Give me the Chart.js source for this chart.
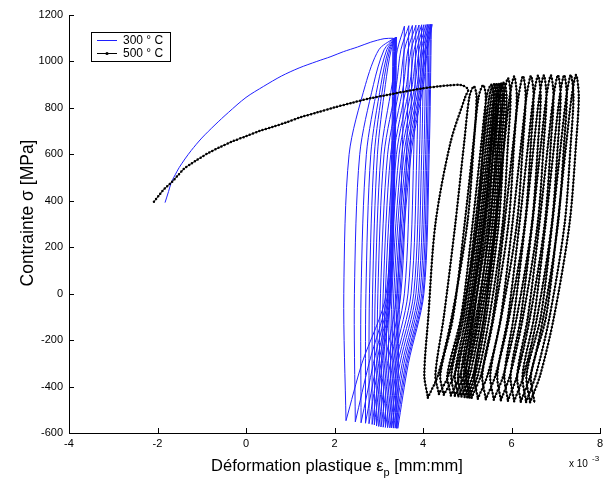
<!DOCTYPE html>
<html><head><meta charset="utf-8">
<script src="https://cdn.jsdelivr.net/npm/chart.js@4/dist/chart.umd.min.js"></script>
<style>html,body{margin:0;padding:0;background:#fff;}#wrap{width:614px;height:481px;}</style>
</head><body><div id="wrap"><canvas id="c" width="614" height="481"></canvas></div>
<script>
// ---- axes ----
const xTicks = [-4, -2, 0, 2, 4, 6, 8];
const yTicks = [-600, -400, -200, 0, 200, 400, 600, 800, 1000, 1200];
const seriesNames = ['300 ° C', '500 ° C'];

// ---- 300 °C : monotonic loading ----
const blueMonoX = [-1.83,-1.75,-1.69,-1.6,-1.51,-1.38,-1.24,-1.0,-0.7,-0.4,0,0.4,0.8,1.2,1.6,1.92,2.2,2.52,2.82,3.12,3.32];
const blueMonoY = [392,440,478,512,543,580,616,670,727,780,845,893,937,972,1000,1021,1042,1062,1083,1098,1100];
// 300 °C : cycle peaks (top-right corners) and troughs (bottom-left tips)
const bluePeakX = [3.32,3.34,3.36,3.37,3.38,3.39,3.40,3.58,3.68,3.76,3.84,3.91,3.97,4.02,4.07,4.11,4.14,4.17,4.19,4.21];
const bluePeakY = [1100,1100,1102,1102,1103,1104,1105,1152,1154,1155,1156,1157,1158,1158,1159,1160,1160,1160,1160,1160];
const blueTipX = [2.26,2.47,2.60,2.70,2.78,2.85,2.90,2.95,3.00,3.05,3.10,3.15,3.20,3.25,3.29,3.33,3.37,3.40,3.43];
const blueTipY = [-547,-552,-556,-558,-560,-563,-565,-570,-572,-574,-575,-576,-577,-578,-578,-579,-579,-580,-580];
// 300 °C : unloading branches, strain read at these stress levels
const blueDownLevels = [600, 0, -300];
const blueDownX = [
 [3.29,3.17,2.62],[3.31,3.20,2.78],[3.33,3.22,2.88],[3.34,3.24,2.95],[3.35,3.26,3.00],
 [3.36,3.27,3.05],[3.37,3.28,3.08],[3.53,3.41,3.14],[3.63,3.50,3.20],[3.71,3.58,3.26],
 [3.79,3.66,3.32],[3.86,3.73,3.38],[3.92,3.79,3.43],[3.97,3.84,3.48],[4.02,3.89,3.53],
 [4.06,3.93,3.57],[4.09,3.97,3.61],[4.12,4.00,3.64],[4.14,4.02,3.67]];
// 300 °C : reloading branches
const blueUpLevels = [0, 600, 900, 1050];
const blueUpX = [
 [2.21,2.33,2.70,3.00],[2.45,2.57,2.88,3.12],[2.60,2.72,2.98,3.18],[2.71,2.82,3.05,3.22],
 [2.79,2.90,3.10,3.25],[2.86,2.97,3.15,3.28],[2.92,3.05,3.30,3.42],[2.98,3.12,3.40,3.50],
 [3.04,3.20,3.48,3.58],[3.10,3.27,3.56,3.66],[3.15,3.34,3.63,3.73],[3.20,3.40,3.70,3.80],
 [3.25,3.46,3.76,3.86],[3.30,3.52,3.82,3.91],[3.34,3.57,3.87,3.96],[3.38,3.62,3.91,4.00],
 [3.42,3.66,3.95,4.04],[3.45,3.70,3.98,4.07],[3.48,3.73,4.01,4.10]];

// ---- 500 °C : monotonic loading ----
const blackMonoX = [-2.08,-1.98,-1.88,-1.78,-1.69,-1.55,-1.4,-1.26,-1.13,-0.98,-0.84,-0.6,-0.3,0,0.3,0.6,0.9,1.24,1.6,2.0,2.4,2.8,3.2,3.6,4.0,4.36,4.6,4.86];
const blackMonoY = [396,420,444,463,478,507,538,557,573,591,607,630,656,678,700,718,737,760,780,802,822,841,856,871,884,893,897,898];
// 500 °C : cycle tops (arch apex) and bottom tips
const blackTopX = [5.02,5.15,5.36,5.54,5.60,5.65,5.70,5.74,5.78,5.83,5.92,6.06,6.26,6.44,6.60,6.73,6.89,7.05,7.19,7.34,7.46];
const blackTopY = [880,893,898,900,903,905,906,907,908,910,928,935,937,938,939,940,940,941,941,942,942];
const blackBotX = [4.11,4.36,4.47,4.63,4.72,4.80,4.87,4.94,5.00,5.05,5.10,5.24,5.42,5.60,5.76,5.92,6.06,6.21,6.33,6.42,6.52];
const blackBotY = [-448,-432,-435,-438,-440,-442,-443,-445,-446,-447,-448,-452,-455,-457,-459,-461,-463,-465,-466,-468,-470];
// 500 °C : unloading branches
const blackDownLevels = [850, 650, 300, -100, -350];
const blackDownX = [
 [4.96,4.62,4.28,4.12,4.03],[5.05,4.93,4.73,4.47,4.28],[5.26,5.14,4.94,4.68,4.39],
 [5.44,5.32,5.12,4.86,4.55],[5.50,5.38,5.18,4.92,4.64],[5.55,5.43,5.23,4.97,4.72],
 [5.60,5.48,5.28,5.02,4.79],[5.64,5.52,5.32,5.06,4.86],[5.68,5.56,5.36,5.10,4.92],
 [5.73,5.61,5.41,5.15,4.97],[5.82,5.70,5.50,5.24,5.02],[5.96,5.84,5.64,5.38,5.16],
 [6.16,6.04,5.84,5.58,5.34],[6.34,6.22,6.02,5.76,5.52],[6.50,6.38,6.18,5.92,5.68],
 [6.63,6.51,6.31,6.05,5.84],[6.79,6.67,6.47,6.21,5.98],[6.95,6.83,6.63,6.37,6.13],
 [7.09,6.97,6.77,6.51,6.25],[7.24,7.12,6.92,6.66,6.34],[7.36,7.24,7.04,6.78,6.44]];
// 500 °C : reloading branches
const blackUpLevels = [-350, -100, 300, 650, 850];
const blackUpX = [
 [4.34,4.65,5.00,5.15,5.21],[4.58,4.88,5.22,5.36,5.42],[4.71,5.03,5.39,5.54,5.60],
 [4.84,5.13,5.46,5.60,5.66],[4.93,5.20,5.52,5.65,5.71],[5.00,5.27,5.57,5.70,5.76],
 [5.06,5.32,5.62,5.74,5.80],[5.13,5.38,5.66,5.78,5.84],[5.18,5.43,5.71,5.83,5.89],
 [5.24,5.50,5.80,5.92,5.98],[5.31,5.60,5.93,6.06,6.12],[5.46,5.77,6.12,6.26,6.32],
 [5.64,5.95,6.30,6.44,6.50],[5.82,6.12,6.46,6.60,6.66],[5.97,6.26,6.59,6.73,6.79],
 [6.13,6.42,6.75,6.89,6.95],[6.28,6.58,6.91,7.05,7.11],[6.43,6.72,7.05,7.19,7.25],
 [6.55,6.86,7.20,7.34,7.40],[6.65,6.96,7.31,7.46,7.52]];

// ---- build point lists (null = pen up) ----
const GAP = {x: null, y: null};
function buildBlue() {
  const pts = blueMonoX.map((x, i) => ({x, y: blueMonoY[i]}));
  pts.push(GAP);
  for (let i = 0; i < blueTipX.length; i++) {
    pts.push({x: bluePeakX[i], y: bluePeakY[i]});
    blueDownLevels.forEach((lv, k) => pts.push({x: blueDownX[i][k], y: lv}));
    pts.push({x: blueTipX[i], y: blueTipY[i]});
    pts.push(GAP);
    pts.push({x: blueTipX[i], y: blueTipY[i]});
    blueUpLevels.forEach((lv, k) => pts.push({x: blueUpX[i][k], y: lv}));
    pts.push({x: bluePeakX[i + 1], y: bluePeakY[i + 1]});
    pts.push(GAP);
  }
  return pts;
}
function buildBlack() {
  const pts = blackMonoX.map((x, i) => ({x, y: blackMonoY[i]}));
  pts.push({x: blackTopX[0], y: blackTopY[0]});
  blackDownLevels.forEach((lv, k) => pts.push({x: blackDownX[0][k], y: lv}));
  pts.push({x: blackBotX[0], y: blackBotY[0]});
  pts.push(GAP);
  for (let i = 0; i < blackUpX.length; i++) {
    pts.push({x: blackBotX[i], y: blackBotY[i]});
    blackUpLevels.forEach((lv, k) => pts.push({x: blackUpX[i][k], y: lv}));
    pts.push({x: blackTopX[i + 1], y: blackTopY[i + 1]});
    blackDownLevels.forEach((lv, k) => pts.push({x: blackDownX[i + 1][k], y: lv}));
    pts.push({x: blackBotX[i + 1], y: blackBotY[i + 1]});
    pts.push(GAP);
  }
  return pts;
}

const FONT = 'Liberation Sans, Arial, Helvetica, sans-serif';
const BLUE = '#1f1fff';

const decor = {
  id: 'decor',
  afterDraw(chart) {
    const ctx = chart.ctx, a = chart.chartArea;
    const xs = chart.scales.x, ys = chart.scales.y;
    ctx.save();
    // inward tick marks (MATLAB style)
    ctx.strokeStyle = '#000'; ctx.lineWidth = 1;
    ctx.beginPath();
    xTicks.forEach(v => { const p = Math.round(xs.getPixelForValue(v)) + 0.5; ctx.moveTo(p, a.bottom); ctx.lineTo(p, a.bottom - 5); });
    yTicks.forEach(v => { const p = Math.round(ys.getPixelForValue(v)) + 0.5; ctx.moveTo(a.left, p); ctx.lineTo(a.left + 5, p); });
    ctx.stroke();
    // axis titles
    ctx.fillStyle = '#000';
    ctx.textBaseline = 'alphabetic';
    const F = '16.5px ' + FONT, FS = '11px ' + FONT;
    ctx.font = F;
    const t1 = 'Déformation plastique ε', t2 = ' [mm:mm]';
    const w1 = ctx.measureText(t1).width, w2 = ctx.measureText(t2).width;
    ctx.font = FS; const ws = ctx.measureText('p').width;
    const x0 = 337 - (w1 + ws + w2) / 2;
    ctx.textAlign = 'left';
    ctx.font = F; ctx.fillText(t1, x0, 471);
    ctx.font = FS; ctx.fillText('p', x0 + w1, 476);
    ctx.font = F; ctx.fillText(t2, x0 + w1 + ws, 471);
    ctx.save();
    ctx.translate(33, 213); ctx.rotate(-Math.PI / 2);
    ctx.textAlign = 'center'; ctx.font = '17.5px ' + FONT;
    ctx.fillText('Contrainte σ [MPa]', 0, 0);
    ctx.restore();
    // exponent label
    ctx.font = '10px ' + FONT; ctx.textAlign = 'left';
    ctx.fillText('x 10', 569, 467);
    ctx.font = '8px ' + FONT; ctx.fillText('-3', 592, 461);
    // legend
    const lx = 91, ly = 32, lw = 79, lh = 29;
    ctx.fillStyle = '#fff'; ctx.fillRect(lx, ly, lw, lh);
    ctx.strokeStyle = '#000'; ctx.lineWidth = 1; ctx.strokeRect(lx + 0.5, ly + 0.5, lw, lh);
    ctx.strokeStyle = BLUE; ctx.beginPath(); ctx.moveTo(97, 40.5); ctx.lineTo(117, 40.5); ctx.stroke();
    ctx.strokeStyle = '#000'; ctx.beginPath(); ctx.moveTo(97, 53.5); ctx.lineTo(117, 53.5); ctx.stroke();
    ctx.fillStyle = '#000'; ctx.beginPath(); ctx.arc(107, 53.5, 1.6, 0, Math.PI * 2); ctx.fill();
    ctx.font = '12px ' + FONT; ctx.textBaseline = 'middle';
    ctx.fillText(seriesNames[0], 123, 40.5);
    ctx.fillText(seriesNames[1], 123, 53.5);
    ctx.restore();
  }
};

const blackPts = buildBlack();
new Chart(document.getElementById('c'), {
  type: 'scatter',
  data: {
    datasets: [
      { label: seriesNames[0], data: buildBlue(), showLine: true, spanGaps: false,
        borderColor: BLUE, borderWidth: 1, pointRadius: 0, tension: 0.3, order: 3 },
      { label: seriesNames[1], data: blackPts, showLine: true, spanGaps: false,
        borderColor: '#000', borderWidth: 1, pointRadius: 0, tension: 0.3, order: 2 },
      { label: seriesNames[1] + ' markers', data: blackPts, showLine: true, spanGaps: false,
        borderColor: '#000', borderWidth: 2.5, borderDash: [0, 3.4], borderCapStyle: 'round',
        pointRadius: 0, tension: 0.3, order: 1 }
    ]
  },
  options: {
    responsive: false, animation: false, devicePixelRatio: 1,
    layout: { padding: { top: 15, right: 14, left: 0, bottom: 0 } },
    plugins: { legend: { display: false }, tooltip: { enabled: false } },
    scales: {
      x: { type: 'linear', min: -4, max: 8, position: 'bottom',
        afterBuildTicks: s => { s.ticks = xTicks.map(v => ({ value: v })); },
        afterFit: s => { s.height = 48; },
        grid: { display: false, drawTicks: false },
        border: { display: true, color: '#000', width: 1 },
        ticks: { font: { family: FONT, size: 11 }, color: '#000', padding: 4, maxRotation: 0, autoSkip: false,
          callback: v => String(v) } },
      y: { type: 'linear', min: -600, max: 1200, position: 'left',
        afterBuildTicks: s => { s.ticks = yTicks.map(v => ({ value: v })); },
        afterFit: s => { s.width = 69; },
        grid: { display: false, drawTicks: false },
        border: { display: true, color: '#000', width: 1 },
        ticks: { font: { family: FONT, size: 11 }, color: '#000', padding: 6, autoSkip: false,
          callback: v => String(v) } }
    }
  },
  plugins: [decor]
});
</script></body></html>
